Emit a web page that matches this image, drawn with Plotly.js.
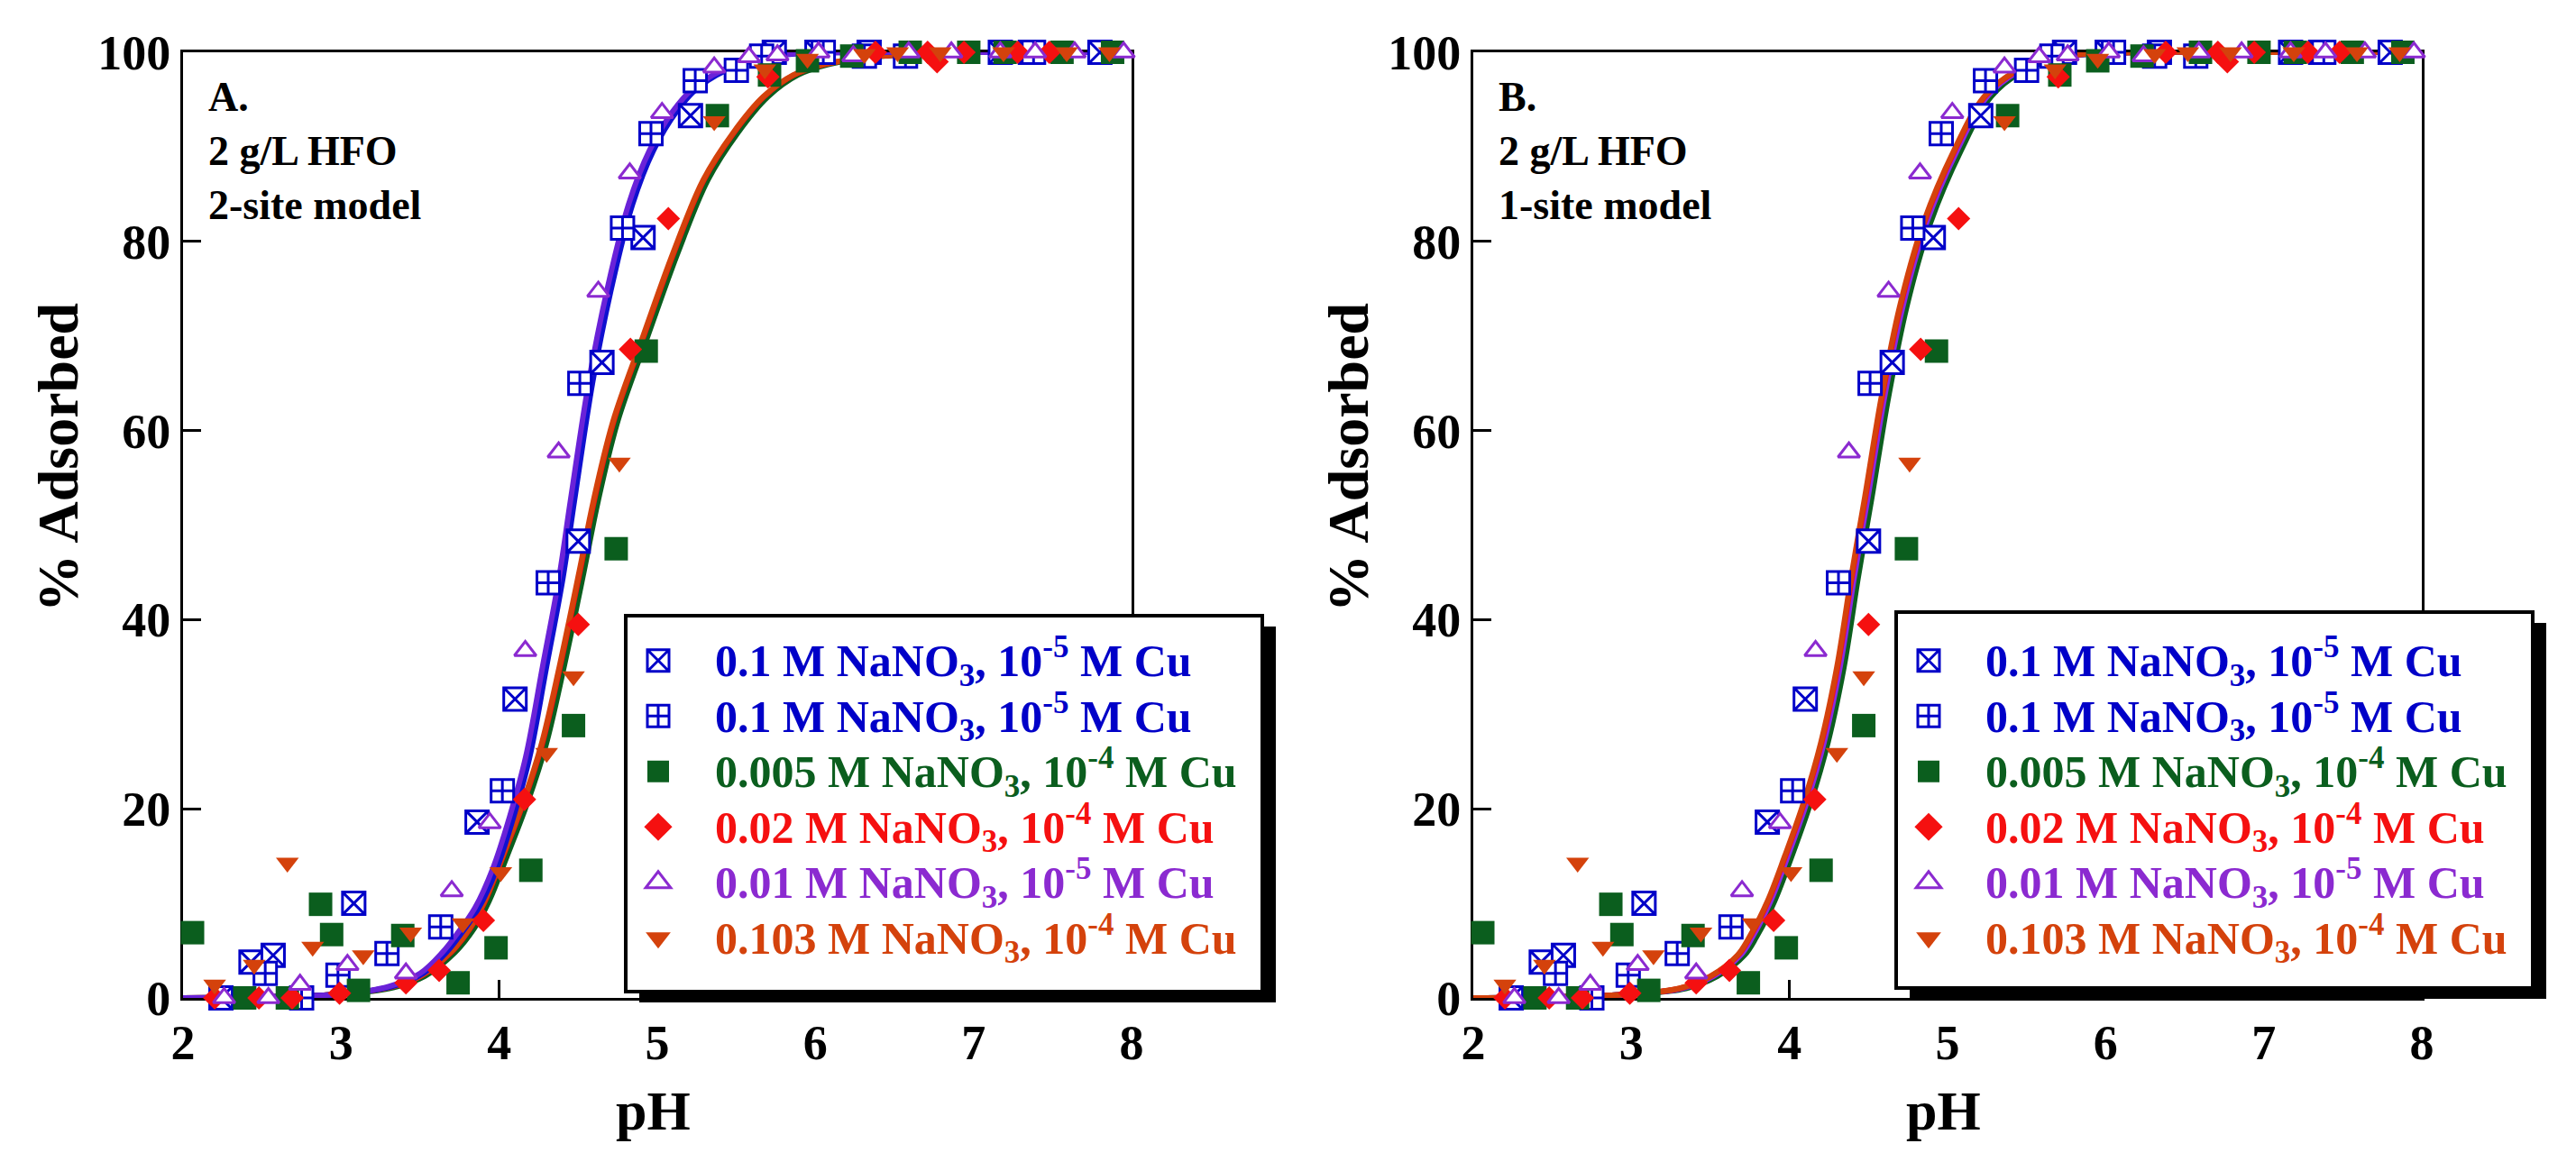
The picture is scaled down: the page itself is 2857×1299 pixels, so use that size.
<!DOCTYPE html>
<html><head><meta charset="utf-8">
<script src="https://cdn.plot.ly/plotly-3.0.1.min.js"></script>
<style>html,body{margin:0;padding:0;background:#fff;} #chart{width:2857px;height:1299px;}</style>
</head><body><div id="chart"></div>
<script>
// ---------------- data ----------------
const xTicks = [2, 3, 4, 5, 6, 7, 8];
const yTicks = [0, 20, 40, 60, 80, 100];

const seriesNames = [
  '0.1 M NaNO<sub>3</sub>, 10<sup>-5</sup> M Cu',
  '0.1 M NaNO<sub>3</sub>, 10<sup>-5</sup> M Cu',
  '0.005 M NaNO<sub>3</sub>, 10<sup>-4</sup> M Cu',
  '0.02 M NaNO<sub>3</sub>, 10<sup>-4</sup> M Cu',
  '0.01 M NaNO<sub>3</sub>, 10<sup>-5</sup> M Cu',
  '0.103 M NaNO<sub>3</sub>, 10<sup>-4</sup> M Cu'
];
const seriesColors = ['#0000c8', '#0000c8', '#0b5e1e', '#f51010', '#8b2ad0', '#d4420c'];

// 0.1 M NaNO3, 1e-5 M Cu (boxed X)
const pH_a  = [2.24, 2.43, 2.57, 3.08, 3.86, 4.10, 4.50, 4.65, 4.91, 5.21, 5.74, 6.01, 6.34, 7.17, 7.36, 7.80];
const ads_a = [0.0, 3.8, 4.5, 10.0, 18.6, 31.6, 48.3, 67.2, 80.4, 93.3, 100, 100, 100, 100, 100, 100];
// 0.1 M NaNO3, 1e-5 M Cu (boxed +)
const pH_b  = [2.52, 2.75, 2.98, 3.29, 3.63, 4.02, 4.31, 4.51, 4.78, 4.96, 5.24, 5.50, 5.66, 6.05, 6.31, 6.57, 7.38];
const ads_b = [2.6, 0.0, 2.4, 4.7, 7.5, 21.9, 43.9, 65.0, 81.4, 91.4, 97.0, 98.1, 99.6, 100, 99.6, 99.6, 100];
// 0.005 M NaNO3, 1e-4 M Cu (filled square)
const pH_c  = [2.06, 2.39, 2.66, 2.87, 2.94, 3.11, 3.39, 3.74, 3.98, 4.20, 4.47, 4.74, 4.93, 5.38, 5.71, 5.95, 6.23, 6.60, 6.97, 7.20, 7.56, 7.88];
const ads_c = [6.9, 0.0, 0.0, 9.9, 6.7, 0.8, 6.6, 1.6, 5.3, 13.5, 28.8, 47.5, 68.4, 93.3, 97.6, 99.1, 99.6, 100, 100, 100, 100, 100];
// 0.02 M NaNO3, 1e-4 M Cu (diamond)
const pH_d  = [2.20, 2.48, 2.69, 2.99, 3.41, 3.62, 3.90, 4.16, 4.50, 4.83, 5.07, 5.70, 6.38, 6.71, 6.77, 6.94, 7.28, 7.48];
const ads_d = [0.0, 0.0, 0.0, 0.5, 1.6, 2.9, 8.2, 21.0, 39.5, 68.6, 82.4, 97.4, 100, 100, 99.0, 100, 100, 100];
// 0.01 M NaNO3, 1e-5 M Cu (open triangle)
const pH_e  = [2.26, 2.54, 2.74, 3.04, 3.41, 3.70, 3.94, 4.165, 4.376, 4.627, 4.826, 5.03, 5.36, 5.58, 5.76, 6.02, 6.24, 6.59, 6.86, 7.17, 7.39, 7.64, 7.95];
const ads_e = [0.0, 0.0, 1.4, 3.5, 2.6, 11.3, 18.5, 36.7, 57.7, 74.7, 87.2, 93.6, 98.4, 99.5, 99.7, 100, 99.6, 100, 100, 100, 100, 100, 100];
// 0.103 M NaNO3, 1e-4 M Cu (down triangle)
const pH_f  = [2.20, 2.45, 2.66, 2.82, 3.14, 3.44, 3.77, 4.01, 4.30, 4.47, 4.76, 5.36, 5.68, 5.95, 6.31, 6.52, 6.79, 7.19, 7.59, 7.86];
const ads_f = [1.4, 3.5, 14.3, 5.4, 4.5, 6.9, 7.9, 13.3, 25.9, 34.0, 56.6, 92.7, 98.2, 99.3, 99.8, 100, 100, 100, 100, 100];

// ---- model curves, panel A (2-site) ----
const curveA_pct      = [0.0, 0.1, 0.4, 1.2, 2.6, 4.8, 6.7, 9.5, 13.7, 19.1, 25.5, 35.0, 44.5, 52.5, 65.2, 74.7, 83.9, 89.6, 93.8, 96.3, 98.6, 99.7, 100, 100, 100];
const curveA_pH_blue  = [2.0, 2.5, 3.0, 3.32, 3.52, 3.665, 3.755, 3.87, 3.985, 4.09, 4.193, 4.299, 4.404, 4.475, 4.592, 4.705, 4.843, 4.975, 5.125, 5.26, 5.505, 5.795, 6.2, 7.0, 8.0];
const curveA_pH_purp  = [2.0, 2.5, 3.0, 3.30, 3.50, 3.64, 3.73, 3.846, 3.96, 4.065, 4.168, 4.274, 4.379, 4.45, 4.567, 4.68, 4.818, 4.95, 5.10, 5.235, 5.48, 5.77, 6.2, 7.0, 8.0];
const curveA2_pct     = [0.0, 0.1, 0.4, 1.1, 2.3, 4.8, 7.3, 10.2, 15.0, 20.7, 26.7, 35.0, 45.0, 52.5, 61.0, 70.0, 78.8, 86.5, 91.5, 95.3, 97.6, 98.7, 99.5, 100, 100];
const curveA_pH_green = [2.0, 2.5, 3.0, 3.33, 3.53, 3.72, 3.84, 3.935, 4.05, 4.18, 4.295, 4.41, 4.535, 4.625, 4.75, 4.94, 5.13, 5.32, 5.51, 5.70, 5.89, 6.08, 6.37, 7.0, 8.0];
const curveA_pH_red   = [2.0, 2.5, 3.0, 3.305, 3.505, 3.695, 3.815, 3.91, 4.025, 4.155, 4.27, 4.385, 4.51, 4.60, 4.725, 4.915, 5.105, 5.295, 5.485, 5.675, 5.865, 6.055, 6.345, 7.0, 8.0];
const curveA_pH_orng  = [2.0, 2.5, 3.0, 3.30, 3.50, 3.69, 3.81, 3.905, 4.02, 4.15, 4.265, 4.38, 4.505, 4.595, 4.72, 4.91, 5.10, 5.29, 5.48, 5.67, 5.86, 6.05, 6.34, 7.0, 8.0];

// ---- model curves, panel B (1-site) ----
const curveB_pct      = [0.0, 0.1, 0.4, 1.0, 2.3, 4.5, 6.4, 10.2, 15.0, 20.7, 27.1, 35.0, 44.5, 53.0, 63.6, 73.1, 82.0, 89.6, 95.3, 97.9, 99.5, 100, 100, 100];
const curveB_pH_orng  = [2.0, 2.5, 3.0, 3.30, 3.50, 3.67, 3.745, 3.86, 3.97, 4.09, 4.20, 4.30, 4.39, 4.477, 4.582, 4.697, 4.848, 5.04, 5.23, 5.42, 5.70, 6.2, 7.0, 8.0];
const curveB_pH_red   = [2.0, 2.5, 3.0, 3.305, 3.505, 3.675, 3.75, 3.865, 3.975, 4.095, 4.205, 4.305, 4.395, 4.482, 4.587, 4.702, 4.853, 5.045, 5.235, 5.425, 5.705, 6.2, 7.0, 8.0];
const curveB_pH_blue  = [2.0, 2.5, 3.0, 3.315, 3.515, 3.685, 3.76, 3.875, 3.985, 4.105, 4.215, 4.315, 4.405, 4.492, 4.597, 4.712, 4.863, 5.055, 5.245, 5.435, 5.715, 6.2, 7.0, 8.0];
const curveB_pH_purp  = [2.0, 2.5, 3.0, 3.32, 3.52, 3.69, 3.765, 3.88, 3.99, 4.11, 4.22, 4.32, 4.41, 4.497, 4.602, 4.717, 4.868, 5.06, 5.25, 5.44, 5.72, 6.2, 7.0, 8.0];
const curveB_pH_green = [2.0, 2.5, 3.0, 3.345, 3.545, 3.715, 3.79, 3.905, 4.015, 4.135, 4.245, 4.345, 4.435, 4.522, 4.627, 4.742, 4.893, 5.085, 5.275, 5.465, 5.745, 6.2, 7.0, 8.0];

const panelTexts = ['A.<br>2 g/L HFO<br>2-site model', 'B.<br>2 g/L HFO<br>1-site model'];

// ---------------- build ----------------
const FONT = 'Liberation Serif, Times New Roman, serif';
const W = 2857, H = 1299;
const px = v => v / W;
const py = v => 1 - v / H;

const pointSets = [
  {x: pH_a, y: ads_a, symbol: 'square-x',     fill: 'white', size: 25, lw: 3},
  {x: pH_b, y: ads_b, symbol: 'square-cross', fill: 'white', size: 25, lw: 3},
  {x: pH_c, y: ads_c, symbol: 'square',       fill: null,    size: 26, lw: 0},
  {x: pH_d, y: ads_d, symbol: 'diamond',      fill: null,    size: 20, lw: 0},
  {x: pH_e, y: ads_e, symbol: 'triangle-up',  fill: 'white', size: 21, lw: 3},
  {x: pH_f, y: ads_f, symbol: 'triangle-down',fill: null,    size: 22, lw: 0}
];

const curveSets = [
  [
    {x: curveA_pH_green, y: curveA2_pct, c: '#0b5e1e'},
    {x: curveA_pH_red,   y: curveA2_pct, c: '#f51010'},
    {x: curveA_pH_orng,  y: curveA2_pct, c: '#d4420c'},
    {x: curveA_pH_blue,  y: curveA_pct,  c: '#1010d0'},
    {x: curveA_pH_purp,  y: curveA_pct,  c: '#6a22d8'}
  ],
  [
    {x: curveB_pH_green, y: curveB_pct, c: '#0b5e1e'},
    {x: curveB_pH_blue,  y: curveB_pct, c: '#1010d0'},
    {x: curveB_pH_purp,  y: curveB_pct, c: '#8a2be2'},
    {x: curveB_pH_red,   y: curveB_pct, c: '#f51010'},
    {x: curveB_pH_orng,  y: curveB_pct, c: '#d4420c'}
  ]
];

const traces = [];
['x', 'x2'].forEach((xa, pi) => {
  const ya = pi === 0 ? 'y' : 'y2';
  curveSets[pi].forEach(cs => {
    traces.push({x: cs.x, y: cs.y, xaxis: xa, yaxis: ya, mode: 'lines', type: 'scatter',
      line: {color: cs.c, width: 6, shape: 'spline', smoothing: 1}, showlegend: false,
      hoverinfo: 'skip', cliponaxis: false});
  });
  pointSets.forEach((ps, i) => {
    const col = seriesColors[i];
    traces.push({x: ps.x, y: ps.y, xaxis: xa, yaxis: ya, mode: 'markers', type: 'scatter',
      name: '<span style="color:' + col + ';font-size:50px">' + seriesNames[i] + '</span>',
      legend: pi === 0 ? 'legend' : 'legend2', cliponaxis: false,
      marker: {symbol: ps.symbol, size: ps.size, color: ps.fill || col,
               line: {color: col, width: ps.lw}}});
  });
});

const tickFont = {family: FONT, size: 54, color: '#000', weight: 'bold'};
function xAxis(dom) {
  return {domain: dom, range: [2, 8], tickvals: xTicks, ticktext: xTicks.map(String),
    ticks: 'inside', ticklen: 20, tickwidth: 3, tickcolor: '#000', showline: true, linewidth: 3,
    linecolor: '#000', mirror: true, showgrid: false, zeroline: false, tickfont: tickFont,
    layer: 'below traces', fixedrange: true};
}
function yAxis(anchor) {
  return {domain: [py(1107), py(58)], range: [0, 100], tickvals: yTicks, ticktext: yTicks.map(String),
    ticks: 'inside', ticklen: 20, tickwidth: 3, tickcolor: '#000', showline: true, linewidth: 3,
    linecolor: '#000', mirror: true, showgrid: false, zeroline: false, tickfont: tickFont,
    anchor: anchor, layer: 'below traces', fixedrange: true};
}

const legendFont = {family: FONT, size: 45, weight: 'bold', color: '#000'};
function legendCfg(xpx) {
  return {x: px(xpx), y: py(697), xanchor: 'left', yanchor: 'top', bgcolor: 'rgba(0,0,0,0)',
    borderwidth: 0, font: legendFont, itemwidth: 116, tracegroupgap: 0, itemclick: false};
}

const boxes = [
  {x0: 694, x1: 1400, y0: 683, y1: 1100},
  {x0: 2103, x1: 2809, y0: 679, y1: 1096}
];
const shapes = [];
boxes.forEach(b => {
  shapes.push({type: 'rect', xref: 'paper', yref: 'paper', layer: 'above',
    x0: px(b.x0 + 15), x1: px(b.x1 + 15), y0: py(b.y1 + 12), y1: py(b.y0 + 12),
    fillcolor: '#000', line: {width: 0}});
  shapes.push({type: 'rect', xref: 'paper', yref: 'paper', layer: 'above',
    x0: px(b.x0), x1: px(b.x1), y0: py(b.y1), y1: py(b.y0),
    fillcolor: '#fff', line: {color: '#000', width: 4}});
});

const annotations = [];
[0, 1431].forEach((dx, pi) => {
  annotations.push({xref: 'paper', yref: 'paper', x: px(229 + dx), y: py(80), xanchor: 'left', yanchor: 'top',
    align: 'left', showarrow: false, text: panelTexts[pi],
    font: {family: FONT, size: 46, weight: 'bold', color: '#000'}});
  annotations.push({xref: 'paper', yref: 'paper', x: px(64 + dx), y: py(508), xanchor: 'center', yanchor: 'middle',
    textangle: -90, showarrow: false, text: '% Adsorbed',
    font: {family: FONT, size: 64, weight: 'bold', color: '#000'}});
  annotations.push({xref: 'paper', yref: 'paper', x: px(724 + dx), y: py(1232), xanchor: 'center', yanchor: 'middle',
    showarrow: false, text: 'pH',
    font: {family: FONT, size: 62, weight: 'bold', color: '#000'}});
});

const layout = {
  width: W, height: H, autosize: false,
  margin: {l: 0, r: 0, t: 0, b: 0, pad: 0},
  paper_bgcolor: '#fff', plot_bgcolor: 'rgba(0,0,0,0)',
  xaxis: xAxis([px(203), px(1255)]), yaxis: yAxis('x'),
  xaxis2: xAxis([px(1634), px(2686)]), yaxis2: yAxis('x2'),
  legend: legendCfg(667), legend2: legendCfg(2076),
  shapes: shapes, annotations: annotations, showlegend: true
};
layout.xaxis.anchor = 'y';
layout.xaxis2.anchor = 'y2';

const gd = document.getElementById('chart');
Plotly.newPlot(gd, traces, layout, {staticPlot: true, displayModeBar: false}).then(() => {
  gd.querySelectorAll('.legendpoints path.scatterpts').forEach(p => {
    const sw = parseFloat(p.style.strokeWidth || '0');
    if (sw > 0) p.style.strokeWidth = (sw / 1.5) + 'px';
    const t = p.getAttribute('transform') || '';
    p.setAttribute('transform', t + ' scale(1.5)');
  });
});
</script></body></html>
